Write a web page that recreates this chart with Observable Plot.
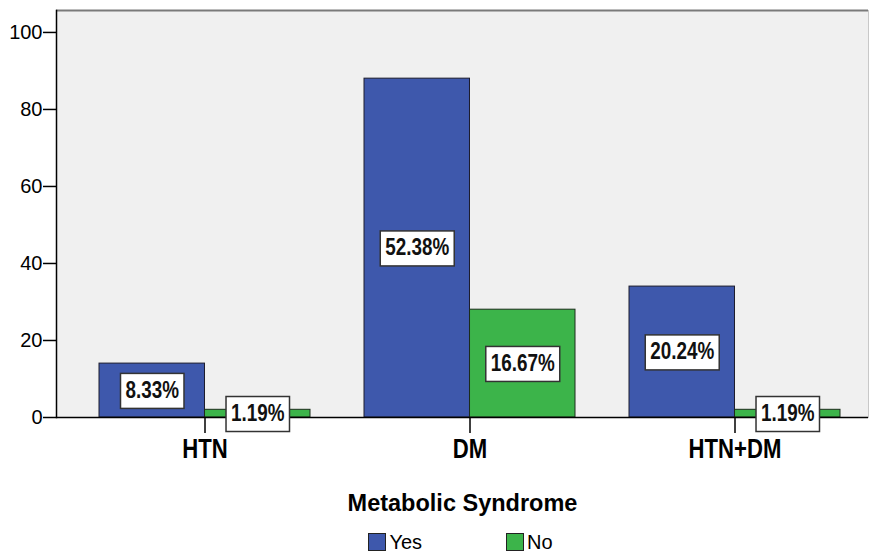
<!DOCTYPE html>
<html>
<head>
<meta charset="utf-8">
<script src="https://cdn.jsdelivr.net/npm/d3@7"></script>
<script src="https://cdn.jsdelivr.net/npm/@observablehq/plot@0.6"></script>
<style>
  body { margin: 0; background: #fff; font-family: "Liberation Sans", Arial, sans-serif; }
  #wrap { width: 869px; }
  #title { text-align: center; font-weight: bold; font-size: 23.5px; padding-left: 56px; margin-top: 19px; height: 28px; line-height: 28px; }
  #legend { display: flex; justify-content: center; padding-left: 52px; margin-top: 15px; font-size: 20px; line-height: 20px; height: 20px; }
  .item { display: flex; align-items: center; margin: 0 42px; }
  .sw { width: 16px; height: 16px; border: 1px solid #222; margin-right: 3px; }
</style>
</head>
<body>
<div id="wrap">
  <div id="chart"></div>
  <div id="title">Metabolic Syndrome</div>
  <div id="legend"></div>
</div>
<script>
const categories = ["HTN", "DM", "HTN+DM"];
const seriesNames = ["Yes", "No"];
const seriesColors = ["#3e58ac", "#3cb44a"];
const yesValues = [14, 88, 34];
const noValues = [2, 28, 2];
const yesLabels = ["8.33%", "52.38%", "20.24%"];
const noLabels = ["1.19%", "16.67%", "1.19%"];
const yTicks = [0, 20, 40, 60, 80, 100];
const yMax = 105.7;

const W = 869, H = 470, ML = 56, MR = 1, MT = 10, MB = 53;
const padIn = 0.205, padOut = 0.132;
const step = (W - ML - MR) / (categories.length - padIn + 2 * padOut);
const bw = step * (1 - padIn);
const half = bw / 2;

const yesData = categories.map((c, i) => ({cat: c, series: "Yes", value: yesValues[i], label: yesLabels[i]}));
const noData = categories.map((c, i) => ({cat: c, series: "No", value: noValues[i], label: noLabels[i]}));

const plot = Plot.plot({
  width: W, height: H,
  marginLeft: ML, marginRight: MR, marginTop: MT, marginBottom: MB,
  style: {fontFamily: "'Liberation Sans', Arial, sans-serif", color: "#000", background: "transparent", overflow: "visible"},
  x: {domain: categories, paddingInner: padIn, paddingOuter: padOut, align: 0.6},
  y: {domain: [0, yMax]},
  color: {domain: seriesNames, range: seriesColors},
  marks: [
    Plot.frame({fill: "#f0f0f0", stroke: "#c8c8c8"}),
    Plot.ruleY([yMax], {stroke: "#7a7a7a", strokeWidth: 2}),
    Plot.barY(yesData, {x: "cat", y: "value", fill: "series", stroke: "#1c1c2c", strokeWidth: 1, insetRight: half}),
    Plot.barY(noData, {x: "cat", y: "value", fill: "series", stroke: "#1c2c1c", strokeWidth: 1, insetLeft: half}),
    Plot.frame({anchor: "left", stroke: "#000", strokeWidth: 1.5}),
    Plot.ruleY([0], {stroke: "#000", strokeWidth: 1.5}),
    Plot.axisY({ticks: yTicks, tickSize: 13, tickPadding: 1, fontSize: 20, label: null, stroke: "#000", strokeWidth: 1.5}),
    Plot.axisX({tickSize: 16, tickPadding: 5, fontSize: 27, fontWeight: "bold", label: null, stroke: "#000", strokeWidth: 1.5}),
    Plot.text(yesData, {x: "cat", y: d => d.value / 2, text: "label", dx: -half / 2, fontSize: 23, fontWeight: "bold", fill: "#111"}),
    Plot.text(noData, {x: "cat", y: d => d.value / 2, text: "label", dx: half / 2, fontSize: 23, fontWeight: "bold", fill: "#111"})
  ]
});
document.getElementById("chart").appendChild(plot);

const ns = "http://www.w3.org/2000/svg";
const NARROW = 0.82;
function narrowText(t) {
  const b = t.getBBox();
  const cx = b.x + b.width / 2;
  const tr = t.getAttribute("transform") || "";
  t.setAttribute("transform", `${tr} translate(${cx},0) scale(${NARROW},1) translate(${-cx},0)`);
  return {b, cx, tr};
}

// narrow bold text like the reference (condensed face)
plot.querySelectorAll('g[aria-label="x-axis tick label"] text').forEach(narrowText);

// white boxed backgrounds behind the value labels
plot.querySelectorAll('g[aria-label="text"] text').forEach(t => {
  const {b, cx, tr} = narrowText(t);
  const w = b.width * NARROW + 10;
  const cy = b.y + b.height / 2 + 1;
  const h = 35;
  const r = document.createElementNS(ns, "rect");
  if (tr) r.setAttribute("transform", tr);
  r.setAttribute("x", cx - w / 2);
  r.setAttribute("y", cy - h / 2);
  r.setAttribute("width", w);
  r.setAttribute("height", h);
  r.setAttribute("fill", "#fff");
  r.setAttribute("stroke", "#333");
  r.setAttribute("stroke-width", 1.5);
  t.parentNode.insertBefore(r, t);
});

const legend = document.getElementById("legend");
seriesNames.forEach((s, i) => {
  const it = document.createElement("div");
  it.className = "item";
  const sw = document.createElement("div");
  sw.className = "sw";
  sw.style.background = seriesColors[i];
  const lb = document.createElement("span");
  lb.textContent = s;
  it.appendChild(sw); it.appendChild(lb);
  legend.appendChild(it);
});
</script>
</body>
</html>
